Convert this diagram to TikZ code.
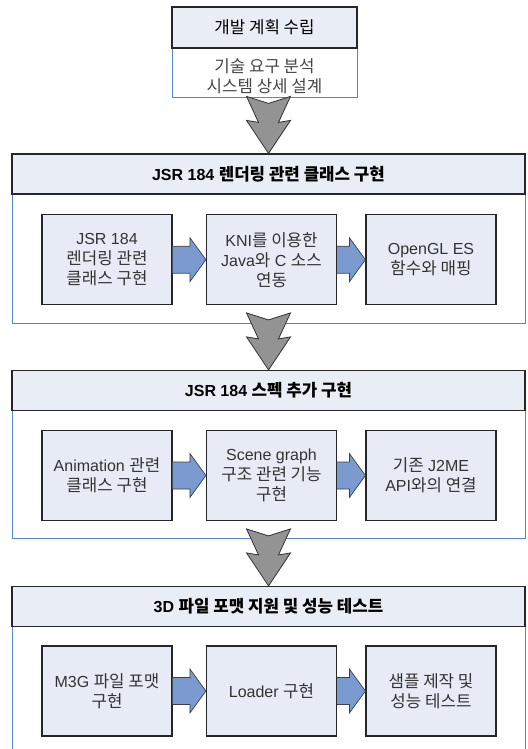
\documentclass[tikz,border=0pt]{standalone}
\usepackage{fontspec}
\setmainfont{Liberation Sans}
\newfontfamily\krfont[Scale=1.05]{Noto Sans CJK KR}
\newcommand{\K}[1]{{\krfont #1}}
\usetikzlibrary{calc}
\definecolor{hdrfill}{HTML}{E9EDF6}
\definecolor{boxfill}{HTML}{E6EBF5}
\definecolor{blueline}{HTML}{5485D2}
\definecolor{arrowblue}{HTML}{7B9BD0}
\definecolor{arrowgray}{HTML}{939393}
\newcommand{\grayarrow}[1]{\draw[garrow] ($(#1.north)+(-22,-57)$) -- ($(#1.north)+(0,-50)$) -- ($(#1.north)+(22,-57)$) -- ($(#1.north)+(10,-31)$) -- ($(#1.north)+(22,-33)$) -- (#1.north) -- ($(#1.north)+(-22,-33)$) -- ($(#1.north)+(-10,-31)$) -- cycle;}
\newcommand{\bluearrow}[2]{\draw[barrow] ($(#1.east)+(0,-13.5)$) -- ($(#2.west)+(-16,-13.5)$) -- ($(#2.west)+(-16,-22)$) -- (#2.west) -- ($(#2.west)+(-16,22)$) -- ($(#2.west)+(-16,13.5)$) -- ($(#1.east)+(0,13.5)$);}
\tikzset{
  hdr/.style={draw=black!85, line width=1.2pt, fill=hdrfill, minimum width=513pt, minimum height=40pt, inner sep=0pt, font=\fontsize{16}{20}\selectfont\bfseries, text=black},
  tophdr/.style={draw=black!85, line width=1.2pt, fill=hdrfill, minimum width=185pt, minimum height=41pt, inner sep=0pt, font=\fontsize{16}{20}\selectfont, text=black},
  bodytext/.style={align=center, inner sep=0pt, font=\fontsize{16}{20}\selectfont, text=black!72},
  inbox/.style={draw=black!85, line width=1.2pt, fill=boxfill, minimum width=130pt, minimum height=90pt, inner sep=0pt, align=center, font=\fontsize{16}{20}\selectfont, text=black!80},
  bluebox/.style={draw=blueline, line width=0.9pt},
  barrow/.style={fill=arrowblue, draw=black!75, line width=0.7pt, line join=miter},
  garrow/.style={fill=arrowgray, draw=black!80, line width=0.8pt, line join=miter}
}
\begin{document}
\begin{tikzpicture}[x=1pt,y=-1pt]
\useasboundingbox (0,0) rectangle (527,749);
\fill[white] (0,0) rectangle (527,749);
% top block
\draw[bluebox] (172,48) rectangle (357,97);
\node[tophdr] (top) at (264.5,27.5) {\K{개발 계획 수립}};
\node[bodytext] (toptxt) at (264.5,76) {\K{기술 요구 분석}\\\K{시스템 상세 설계}};
% section frames
\draw[bluebox] (12,194) rectangle (525,323);
\draw[bluebox] (12,410) rectangle (525,538);
\draw[bluebox] (12,626) -- (12,760) (525,626) -- (525,760);
% section headers
\node[hdr] (h1) at (268.5,174) {JSR 184 \K{렌더링 관련 클래스 구현}};
\node[hdr] (h2) at (268.5,390.5) {JSR 184 \K{스펙 추가 구현}};
\node[hdr] (h3) at (268.5,606.5) {3D \K{파일 포맷 지원 및 성능 테스트}};
% section 1 boxes
\node[inbox] (a1) at (107,259.7) {JSR 184\\\K{렌더링 관련}\\\K{클래스 구현}};
\node[inbox] (a2) at (271.5,259.7) {KNI\K{를 이용한}\\Java\K{와} C \K{소스}\\\K{연동}};
\node[inbox] (a3) at (431,259.7) {OpenGL ES\\\K{함수와 매핑}};
% section 2 boxes
\node[inbox] (b1) at (107,475.5) {Animation \K{관련}\\\K{클래스 구현}};
\node[inbox] (b2) at (271.5,475.5) {Scene graph\\\K{구조 관련 기능}\\\K{구현}};
\node[inbox] (b3) at (431,475.5) {\K{기존} J2ME\\API\K{와의 연결}};
% section 3 boxes
\node[inbox] (c1) at (107,691) {M3G \K{파일 포맷}\\\K{구현}};
\node[inbox] (c2) at (271.5,691) {Loader \K{구현}};
\node[inbox] (c3) at (431,691) {\K{샘플 제작 및}\\\K{성능 테스트}};
% blue arrows
\bluearrow{a1}{a2}
\bluearrow{a2}{a3}
\bluearrow{b1}{b2}
\bluearrow{b2}{b3}
\bluearrow{c1}{c2}
\bluearrow{c2}{c3}
% gray arrows
\grayarrow{h1}
\grayarrow{h2}
\grayarrow{h3}
\end{tikzpicture}
\end{document}
